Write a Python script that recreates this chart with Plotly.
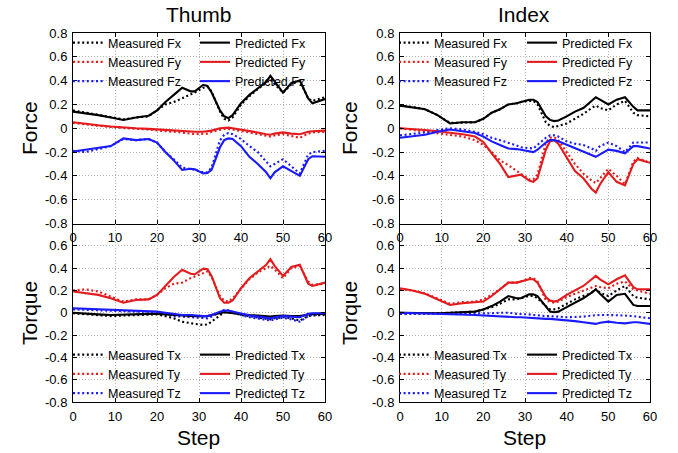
import plotly.graph_objects as go

W, H = 678, 453

steps = [0, 3, 6, 9, 12, 15, 18, 20, 22, 24, 26, 28, 29, 31, 32, 33, 35, 36, 37, 38,
         40, 42, 44, 46, 47, 48, 50, 52, 54, 56, 57, 60]

# ---- Thumb force ----
thumb_meas_fx = [0.15, 0.13, 0.11, 0.09, 0.075, 0.09, 0.10, 0.15, 0.20, 0.22, 0.25, 0.28, 0.30,
                 0.34, 0.35, 0.31, 0.14, 0.08, 0.065, 0.09, 0.20, 0.27, 0.33, 0.38, 0.41, 0.37,
                 0.30, 0.37, 0.40, 0.25, 0.23, 0.26]
thumb_pred_fx = [0.14, 0.126, 0.11, 0.09, 0.07, 0.09, 0.105, 0.15, 0.22, 0.28, 0.34, 0.31, 0.31,
                 0.365, 0.355, 0.30, 0.15, 0.10, 0.085, 0.11, 0.21, 0.28, 0.335, 0.39, 0.44, 0.39,
                 0.30, 0.38, 0.40, 0.25, 0.21, 0.245]
thumb_meas_fy = [0.045, 0.03, 0.02, 0.01, 0.0, -0.005, -0.01, -0.02, -0.025, -0.03, -0.035, -0.045,
                 -0.05, -0.05, -0.045, -0.03, -0.01, -0.005, -0.005, -0.01, -0.02, -0.035, -0.05,
                 -0.065, -0.07, -0.06, -0.05, -0.065, -0.08, -0.045, -0.035, -0.03]
thumb_pred_fy = [0.05, 0.035, 0.025, 0.015, 0.005, 0.0, -0.005, -0.01, -0.015, -0.02, -0.025, -0.03,
                 -0.03, -0.03, -0.025, -0.02, 0.0, 0.005, 0.005, 0.0, -0.01, -0.025, -0.035, -0.05,
                 -0.055, -0.045, -0.035, -0.045, -0.05, -0.03, -0.025, -0.02]
thumb_meas_fz = [-0.19, -0.20, -0.175, -0.15, -0.09, -0.10, -0.09, -0.12, -0.20, -0.26, -0.33, -0.34,
                 -0.35, -0.37, -0.37, -0.33, -0.10, -0.055, -0.04, -0.05, -0.09, -0.15, -0.20, -0.28,
                 -0.32, -0.30, -0.26, -0.32, -0.38, -0.22, -0.20, -0.19]
thumb_pred_fz = [-0.195, -0.18, -0.17, -0.15, -0.085, -0.10, -0.09, -0.12, -0.20, -0.27, -0.35, -0.34,
                 -0.345, -0.38, -0.375, -0.35, -0.16, -0.10, -0.085, -0.09, -0.15, -0.24, -0.30, -0.37,
                 -0.42, -0.37, -0.32, -0.36, -0.40, -0.26, -0.235, -0.24]

# ---- Index force ----
index_meas_fx = [0.19, 0.18, 0.16, 0.11, 0.045, 0.05, 0.05, 0.08, 0.13, 0.16, 0.20, 0.21, 0.22,
                 0.23, 0.23, 0.20, 0.05, 0.02, 0.01, 0.02, 0.04, 0.08, 0.12, 0.17, 0.19, 0.17,
                 0.15, 0.20, 0.23, 0.13, 0.11, 0.10]
index_pred_fx = [0.19, 0.175, 0.16, 0.11, 0.04, 0.05, 0.05, 0.08, 0.13, 0.16, 0.20, 0.21, 0.22,
                 0.24, 0.24, 0.22, 0.10, 0.07, 0.06, 0.065, 0.10, 0.14, 0.17, 0.23, 0.26, 0.24,
                 0.20, 0.24, 0.26, 0.18, 0.15, 0.15]
index_meas_fy = [0.0, -0.015, -0.03, -0.045, -0.055, -0.07, -0.10, -0.14, -0.20, -0.27, -0.31, -0.36,
                 -0.38, -0.43, -0.43, -0.39, -0.12, -0.08, -0.075, -0.10, -0.20, -0.30, -0.38, -0.44,
                 -0.46, -0.42, -0.34, -0.40, -0.47, -0.28, -0.25, -0.29]
index_pred_fy = [0.0, -0.005, -0.015, -0.025, -0.035, -0.05, -0.07, -0.115, -0.21, -0.30, -0.41, -0.40,
                 -0.39, -0.44, -0.45, -0.42, -0.18, -0.11, -0.10, -0.13, -0.25, -0.36, -0.42, -0.51,
                 -0.54, -0.47, -0.37, -0.45, -0.48, -0.30, -0.26, -0.29]
index_meas_fz = [-0.06, -0.05, -0.035, -0.015, 0.0, -0.01, -0.03, -0.05, -0.08, -0.10, -0.12, -0.145,
                 -0.16, -0.17, -0.17, -0.14, -0.08, -0.06, -0.06, -0.07, -0.11, -0.13, -0.14, -0.17,
                 -0.19, -0.15, -0.12, -0.15, -0.20, -0.12, -0.12, -0.12]
index_pred_fz = [-0.08, -0.07, -0.055, -0.03, -0.01, -0.025, -0.04, -0.07, -0.11, -0.14, -0.17, -0.175,
                 -0.18, -0.195, -0.20, -0.18, -0.12, -0.10, -0.10, -0.11, -0.14, -0.17, -0.20, -0.23,
                 -0.24, -0.22, -0.18, -0.19, -0.21, -0.15, -0.15, -0.17]

# ---- Thumb torque ----
thumb_meas_tx = [-0.005, -0.015, -0.025, -0.03, -0.025, -0.02, -0.015, -0.015, -0.03, -0.05, -0.08,
                 -0.095, -0.10, -0.11, -0.105, -0.08, -0.02, 0.005, 0.005, 0.0, -0.02, -0.03, -0.04,
                 -0.05, -0.06, -0.05, -0.04, -0.05, -0.07, -0.03, -0.025, -0.02]
thumb_pred_tx = [0.0, -0.01, -0.015, -0.02, -0.015, -0.01, -0.01, -0.01, -0.015, -0.02, -0.025, -0.03,
                 -0.03, -0.03, -0.03, -0.02, 0.0, 0.005, 0.0, -0.005, -0.015, -0.02, -0.025, -0.03,
                 -0.035, -0.03, -0.025, -0.03, -0.03, -0.015, -0.01, -0.01]
thumb_meas_ty = [0.20, 0.21, 0.19, 0.145, 0.10, 0.12, 0.12, 0.16, 0.22, 0.26, 0.27, 0.31, 0.325,
                 0.36, 0.37, 0.32, 0.15, 0.11, 0.10, 0.13, 0.22, 0.30, 0.36, 0.40, 0.42, 0.39,
                 0.31, 0.40, 0.42, 0.28, 0.25, 0.26]
thumb_pred_ty = [0.19, 0.175, 0.16, 0.13, 0.09, 0.115, 0.12, 0.16, 0.24, 0.32, 0.385, 0.35, 0.345,
                 0.395, 0.39, 0.33, 0.13, 0.09, 0.09, 0.11, 0.22, 0.31, 0.37, 0.43, 0.48, 0.42,
                 0.33, 0.41, 0.43, 0.26, 0.24, 0.27]
thumb_meas_tz = [0.03, 0.025, 0.02, 0.015, 0.01, 0.01, 0.01, 0.0, -0.015, -0.03, -0.035, -0.04,
                 -0.045, -0.05, -0.05, -0.035, 0.01, 0.025, 0.02, 0.005, -0.02, -0.04, -0.05, -0.065,
                 -0.07, -0.06, -0.045, -0.06, -0.08, -0.03, -0.02, -0.01]
thumb_pred_tz = [0.04, 0.035, 0.03, 0.025, 0.02, 0.015, 0.015, 0.01, 0.0, -0.01, -0.02, -0.02,
                 -0.025, -0.03, -0.03, -0.02, 0.01, 0.02, 0.02, 0.01, -0.01, -0.025, -0.035, -0.045,
                 -0.05, -0.04, -0.03, -0.035, -0.04, -0.01, -0.005, -0.005]

# ---- Index torque ----
index_meas_tx = [-0.01, -0.01, -0.01, -0.005, 0.0, 0.005, 0.01, 0.03, 0.05, 0.08, 0.12, 0.12, 0.13,
                 0.15, 0.15, 0.13, 0.06, 0.03, 0.03, 0.04, 0.08, 0.12, 0.15, 0.18, 0.21, 0.18,
                 0.15, 0.20, 0.24, 0.15, 0.135, 0.12]
index_pred_tx = [0.0, -0.002, -0.005, -0.005, 0.0, 0.005, 0.01, 0.03, 0.06, 0.10, 0.15, 0.13, 0.13,
                 0.165, 0.165, 0.15, 0.05, 0.01, 0.005, 0.01, 0.05, 0.09, 0.13, 0.18, 0.21, 0.17,
                 0.10, 0.16, 0.17, 0.07, 0.06, 0.06]
index_meas_ty = [0.21, 0.20, 0.175, 0.125, 0.08, 0.095, 0.10, 0.12, 0.16, 0.21, 0.27, 0.27, 0.28,
                 0.31, 0.31, 0.28, 0.11, 0.10, 0.09, 0.10, 0.14, 0.17, 0.20, 0.23, 0.24, 0.23,
                 0.22, 0.26, 0.28, 0.21, 0.20, 0.17]
index_pred_ty = [0.22, 0.20, 0.17, 0.12, 0.07, 0.085, 0.09, 0.10, 0.15, 0.21, 0.27, 0.27, 0.28,
                 0.30, 0.30, 0.27, 0.14, 0.11, 0.10, 0.11, 0.16, 0.20, 0.24, 0.30, 0.33, 0.30,
                 0.255, 0.30, 0.335, 0.23, 0.21, 0.21]
index_meas_tz = [-0.01, -0.01, -0.01, -0.01, -0.01, -0.01, -0.01, -0.01, -0.005, 0.0, 0.0, -0.01,
                 -0.01, -0.015, -0.02, -0.025, -0.03, -0.03, -0.035, -0.035, -0.04, -0.04, -0.035,
                 -0.025, -0.02, -0.02, -0.02, -0.02, -0.025, -0.03, -0.035, -0.05]
index_pred_tz = [0.0, -0.003, -0.005, -0.008, -0.01, -0.015, -0.02, -0.025, -0.03, -0.032, -0.035,
                 -0.04, -0.04, -0.045, -0.05, -0.055, -0.055, -0.055, -0.058, -0.06, -0.065, -0.075,
                 -0.085, -0.095, -0.10, -0.09, -0.08, -0.09, -0.095, -0.085, -0.085, -0.10]

x_ticks = [0, 10, 20, 30, 40, 50, 60]
x_tick_labels = ["0", "10", "20", "30", "40", "50", "60"]
y_ticks = [-0.8, -0.6, -0.4, -0.2, 0, 0.2, 0.4, 0.6, 0.8]
y_tick_labels = ["-0.8", "-0.6", "-0.4", "-0.2", "0", "0.2", "0.4", "0.6", "0.8"]

panel_titles = ["Thumb", "Index"]
row_titles = ["Force", "Torque"]
x_title = "Step"

FONT = "Liberation Sans, Arial, Helvetica, sans-serif"
BLACK, RED, BLUE = "#000000", "#e41a1c", "#1a1aff"
DOT = "2px,2.6px"

panels = [
    ("", "F", [thumb_meas_fx, thumb_meas_fy, thumb_meas_fz, thumb_pred_fx, thumb_pred_fy, thumb_pred_fz]),
    ("2", "F", [index_meas_fx, index_meas_fy, index_meas_fz, index_pred_fx, index_pred_fy, index_pred_fz]),
    ("3", "T", [thumb_meas_tx, thumb_meas_ty, thumb_meas_tz, thumb_pred_tx, thumb_pred_ty, thumb_pred_tz]),
    ("4", "T", [index_meas_tx, index_meas_ty, index_meas_tz, index_pred_tx, index_pred_ty, index_pred_tz]),
]

fig = go.Figure()
colors = [BLACK, RED, BLUE]
comps = ["x", "y", "z"]
leg_id = 1
for k, (suf, letter, series) in enumerate(panels):
    lg_meas = "legend" if leg_id == 1 else f"legend{leg_id}"
    lg_pred = f"legend{leg_id + 1}"
    for j in range(3):
        fig.add_trace(go.Scatter(
            x=steps, y=series[j], mode="lines", name=f"Measured {letter}{comps[j]}",
            line=dict(color=colors[j], width=2.1, dash=DOT),
            xaxis="x" + suf, yaxis="y" + suf, legend=lg_meas))
    for j in range(3):
        fig.add_trace(go.Scatter(
            x=steps, y=series[3 + j], mode="lines", name=f"Predicted {letter}{comps[j]}",
            line=dict(color=colors[j], width=2.1),
            xaxis="x" + suf, yaxis="y" + suf, legend=lg_pred))
    leg_id += 2


def px_x(v):
    return v / W


def px_y(v):
    return 1 - v / H


xdom_l = [px_x(73), px_x(325)]
xdom_r = [px_x(400), px_x(650)]
ydom_t = [px_y(223.5), px_y(33)]
ydom_b = [px_y(402), px_y(223.5)]

axis_common = dict(showline=True, linecolor="black", linewidth=1,
                   ticks="inside", ticklen=4, tickcolor="black", showgrid=True,
                   gridcolor="#b0b0b0", griddash="1px,2px", gridwidth=1, zeroline=False,
                   tickfont=dict(family=FONT, size=13, color="black"))

layout = dict(width=W, height=H, margin=dict(l=0, r=0, t=0, b=0, autoexpand=False),
              paper_bgcolor="white", plot_bgcolor="white", showlegend=True,
              font=dict(family=FONT, color="black"))

doms = [(xdom_l, ydom_t), (xdom_r, ydom_t), (xdom_l, ydom_b), (xdom_r, ydom_b)]
for k, (xd, yd) in enumerate(doms):
    suf = "" if k == 0 else str(k + 1)
    yt = y_ticks if k < 2 else y_ticks[:-1]
    ytl = y_tick_labels if k < 2 else y_tick_labels[:-1]
    # bottom panels share their top edge with the bottom edge of the top panels
    xmirror = "ticks" if k < 2 else False
    layout["xaxis" + suf] = dict(domain=xd, anchor="y" + suf, range=[0, 60],
                                 tickvals=x_ticks, ticktext=x_tick_labels, mirror=xmirror,
                                 ticklabelstandoff=2, **axis_common)
    layout["yaxis" + suf] = dict(domain=yd, anchor="x" + suf, range=[-0.8, 0.8], mirror="ticks",
                                 tickvals=yt, ticktext=ytl, ticklabelstandoff=2, **axis_common)

# legends: (x px, top y px)
leg_pos = [(68, 28), (195, 28), (394, 28), (522, 28),
           (68, 340), (195, 340), (394, 340), (522, 340)]
for i, (lx, ly) in enumerate(leg_pos):
    key = "legend" if i == 0 else f"legend{i + 1}"
    layout[key] = dict(x=px_x(lx), y=px_y(ly), xanchor="left", yanchor="top",
                       bgcolor="rgba(0,0,0,0)", borderwidth=0, orientation="v",
                       font=dict(family=FONT, size=12.5, color="black"),
                       itemwidth=30, tracegroupgap=0)

annotations = []


def add_text(text, cx, cy, size, angle=0):
    annotations.append(dict(text=text, x=px_x(cx), y=px_y(cy), xref="paper", yref="paper",
                            xanchor="center", yanchor="middle", showarrow=False,
                            textangle=angle, font=dict(family=FONT, size=size, color="black")))


for name, cx in zip(panel_titles, [199, 524]):
    add_text(name, cx, 14, 21)
for name, cy in zip(row_titles, [128, 313]):
    for cx in [29, 349]:
        add_text(name, cx, cy, 21, -90)
for cx in [199, 524]:
    add_text(x_title, cx, 437, 21)
layout["annotations"] = annotations

fig.update_layout(**layout)
fig.write_html("out.html")
